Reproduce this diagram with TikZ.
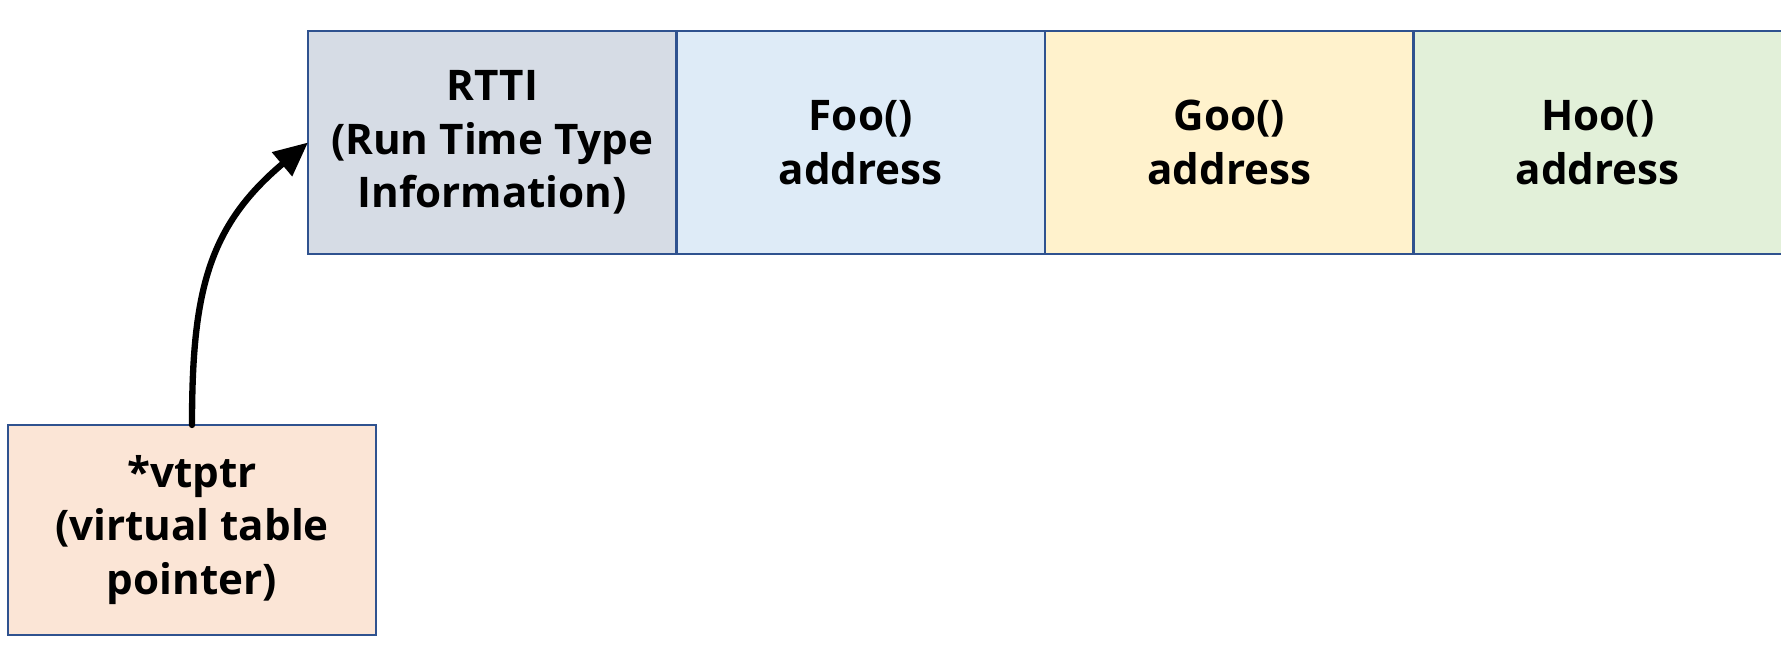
\documentclass[tikz,border=0pt]{standalone}
\usepackage{fontspec}
\setmainfont{Open Sans}
\usetikzlibrary{arrows.meta,positioning}
\definecolor{vtEdge}{HTML}{2F528F}
\definecolor{vtRtti}{HTML}{D6DCE5}
\definecolor{vtFoo}{HTML}{DEEBF7}
\definecolor{vtGoo}{HTML}{FFF2CC}
\definecolor{vtHoo}{HTML}{E2F0D9}
\definecolor{vtPtr}{HTML}{FBE5D6}
\definecolor{vtDark}{HTML}{000000}
\tikzset{
  vt cell/.style={draw=vtEdge, line width=0.8pt, outer sep=0pt, inner sep=0pt,
    minimum width=3.685cm, minimum height=2.23cm, align=center,
    text=vtDark, font=\fontsize{12}{15.3}\selectfont\bfseries},
  vt arrow/.style={vtDark, line width=1.8pt, line cap=round,
    -{Triangle[length=3.4mm, width=3mm]}},
}

\begin{document}
\begin{tikzpicture}
  \useasboundingbox (0,0) rectangle (17.81,6.48);

  % ---- Virtual table (runs off the right edge) ----
  \node[vt cell, fill=vtRtti] (rtti) at (4.9225,5.055)
    {RTTI\\(Run Time Type\\Information)};
  \node[vt cell, fill=vtFoo, right=0pt of rtti] (foo) {Foo()\\address};
  \node[vt cell, fill=vtGoo, right=0pt of foo] (goo) {Goo()\\address};
  \node[vt cell, fill=vtHoo, right=0pt of goo] (hoo) {Hoo()\\address};

  % ---- Pointer held by the object ----
  \node[vt cell, fill=vtPtr, minimum width=3.68cm, minimum height=2.10cm]
    (vtptr) at (1.92,1.18) {*vtptr\\(virtual table\\pointer)};

  \draw[vt arrow] (vtptr.north) to[out=90, in=220, looseness=1.1] (rtti.west);
\end{tikzpicture}
\end{document}
